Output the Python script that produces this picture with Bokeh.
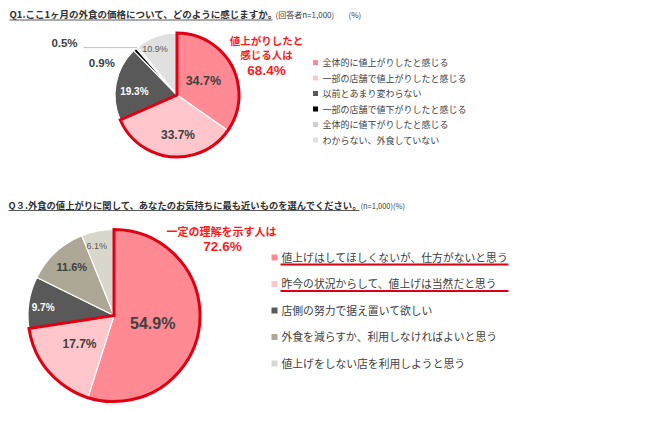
import math
from bokeh.plotting import figure
from bokeh.models import Range1d
from bokeh.core.properties import value
from bokeh.embed import file_html
from bokeh.resources import INLINE

# ---------------- data ----------------
q1_title = "Q1.ここ1ヶ月の外食の価格について、どのように感じますか。"
q1_note = "(回答者n=1,000)"
q1_unit = "(%)"
q1_categories = [
    "全体的に値上がりしたと感じる",
    "一部の店舗で値上がりしたと感じる",
    "以前とあまり変わらない",
    "一部の店舗で値下がりしたと感じる",
    "全体的に値下がりしたと感じる",
    "わからない、外食していない",
]
q1_values = [34.7, 33.7, 19.3, 0.9, 0.5, 10.9]
q1_callout = ["値上がりしたと", "感じる人は", "68.4%"]

q3_title = "Q３.外食の値上がりに関して、あなたのお気持ちに最も近いものを選んでください。"
q3_note = "(n=1,000)(%)"
q3_categories = [
    "値上げはしてほしくないが、仕方がないと思う",
    "昨今の状況からして、値上げは当然だと思う",
    "店側の努力で据え置いて欲しい",
    "外食を減らすか、利用しなければよいと思う",
    "値上げをしない店を利用しようと思う",
]
q3_values = [54.9, 17.7, 9.7, 11.6, 6.1]
q3_callout = ["一定の理解を示す人は", "72.6%"]

# ---------------- styles ----------------
q1_colors = ["#FF8A94", "#FFC7CC", "#595959", "#000000", "#D0D0D0", "#E0E0E0"]
q3_colors = ["#FF8A94", "#FFC7CC", "#595959", "#ADA795", "#D9D6CC"]
RED = "#E00012"
W, H = 650, 429
JP = value("Noto Sans CJK JP")
NUM = value("Liberation Sans")


def Y(ypix):
    return H - ypix


p = figure(width=W, height=H, output_backend="svg", toolbar_location=None,
           x_range=Range1d(0, W), y_range=Range1d(0, H), min_border=0)
p.axis.visible = False
p.grid.visible = False
p.outline_line_color = None
p.background_fill_color = "white"


def draw_pie(vals, colors, cx, cy, r, group_n, labels_style):
    total = sum(vals)
    cum = 0.0
    starts, ends, mids = [], [], []
    for v in vals:
        s = cum / total
        cum += v
        e = cum / total
        starts.append(math.pi / 2 - 2 * math.pi * e)
        ends.append(math.pi / 2 - 2 * math.pi * s)
        mids.append(360.0 * (s + e) / 2)
    p.wedge(x=cx, y=Y(cy), radius=r, start_angle=starts, end_angle=ends,
            direction="anticlock", fill_color=colors, line_color="white", line_width=1.2)
    grp = sum(vals[:group_n]) / total
    p.wedge(x=cx, y=Y(cy), radius=r, start_angle=math.pi / 2 - 2 * math.pi * grp,
            end_angle=math.pi / 2, direction="anticlock", fill_alpha=0,
            line_color=RED, line_width=3, line_join="miter")
    for i, v in enumerate(vals):
        f, dth, size, col, bold = labels_style[i]
        th = math.radians(mids[i] + dth)
        lx = cx + f * r * math.sin(th)
        ly = cy - f * r * math.cos(th)
        p.text(x=[lx], y=[Y(ly)], text=[f"{v}%"], text_font=NUM,
               text_font_size=size, text_color=col,
               text_font_style="bold" if bold else "normal",
               text_align="center", text_baseline="middle")
    return mids


# ---------------- Q1 ----------------
p.text(x=[9], y=[Y(13)], text=[q1_title], text_font=JP, text_font_size="9.5px",
       text_font_style="bold", text_color="#303030", text_baseline="middle")
p.segment(x0=[9], y0=[Y(19.5)], x1=[272], y1=[Y(19.5)], line_color="#595959", line_width=1)
p.text(x=[275], y=[Y(14)], text=[q1_note], text_font=JP, text_font_size="8px",
       text_color="#404040", text_baseline="middle")
p.text(x=[348], y=[Y(14)], text=[q1_unit], text_font=JP, text_font_size="8px",
       text_color="#404040", text_baseline="middle")

c1x, c1y, r1 = 176.5, 94.5, 62
q1_lab = [
    (0.48, 0, "12.5px", "#404040", True),
    (0.65, -7, "12px", "#404040", True),
    (0.69, -6, "10px", "white", True),
    (1.32, -24, "11.5px", "#404040", True),
    (2.0, -25, "11.5px", "#404040", True),
    (0.82, -6, "9px", "#595959", False),
]
mids1 = draw_pie(q1_values, q1_colors, c1x, c1y, r1, 2, q1_lab)
# leader line for 0.5%
th = math.radians(mids1[4])
ex, ey = c1x + r1 * math.sin(th), c1y - r1 * math.cos(th)
p.line(x=[83, ex], y=[Y(ey), Y(ey)], line_color="#BFBFBF", line_width=1)

for i, t in enumerate(q1_callout):
    yy = [40, 54, 70][i]
    p.text(x=[266], y=[Y(yy)], text=[t], text_font=JP if i < 2 else NUM,
           text_font_size="10.5px" if i < 2 else "13.5px", text_font_style="bold",
           text_color="#FF1A1A", text_align="center", text_baseline="middle")

for i, (cat, col) in enumerate(zip(q1_categories, q1_colors)):
    yy = 62 + 15.5 * i
    p.scatter(x=[315], y=[Y(yy)], marker="square", size=5, fill_color=col, line_color=None)
    p.text(x=[322], y=[Y(yy)], text=[cat], text_font=JP, text_font_size="9px",
           text_color="#404040", text_baseline="middle")

# ---------------- Q3 ----------------
p.text(x=[8], y=[Y(204)], text=[q3_title], text_font=JP, text_font_size="9.3px",
       text_font_style="bold", text_color="#303030", text_baseline="middle")
p.segment(x0=[8], y0=[Y(210)], x1=[359], y1=[Y(210)], line_color="#595959", line_width=1)
p.text(x=[360], y=[Y(205)], text=[q3_note], text_font=JP, text_font_size="7.5px",
       text_color="#404040", text_baseline="middle")

c2x, c2y, r2 = 113.5, 315, 86
q3_lab = [
    (0.46, 3, "16px", "#404040", True),
    (0.52, 1, "12px", "#404040", True),
    (0.83, -2, "10px", "white", True),
    (0.75, 2, "11px", "#404040", True),
    (0.83, -3, "9px", "#595959", False),
]
draw_pie(q3_values, q3_colors, c2x, c2y, r2, 2, q3_lab)

p.text(x=[221], y=[Y(230)], text=[q3_callout[0]], text_font=JP, text_font_size="11px",
       text_font_style="bold", text_color="#FF1A1A", text_align="center", text_baseline="middle")
p.text(x=[222], y=[Y(245.5)], text=[q3_callout[1]], text_font=NUM, text_font_size="13.5px",
       text_font_style="bold", text_color="#FF1A1A", text_align="center", text_baseline="middle")

for i, (cat, col) in enumerate(zip(q3_categories, q3_colors)):
    yy = 256 + 26.5 * i
    p.scatter(x=[274], y=[Y(yy + 1)], marker="square", size=6, fill_color=col, line_color=None)
    p.text(x=[281], y=[Y(yy)], text=[cat], text_font=JP, text_font_size="10.8px",
           text_color="#404040", text_baseline="middle")
    if i < 2:
        p.segment(x0=[280], y0=[Y(yy + 8)], x1=[508], y1=[Y(yy + 8)],
                  line_color=RED, line_width=2)

open("out.html", "w").write(file_html(p, INLINE))
